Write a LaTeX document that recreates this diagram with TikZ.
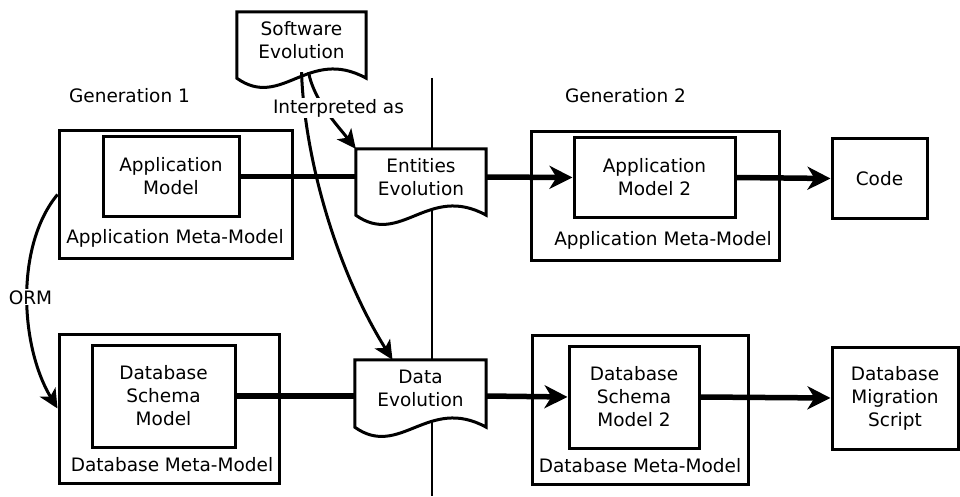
\documentclass[tikz,border=0pt]{standalone}
\usepackage{fontspec}
\setmainfont{DejaVu Sans}
\usetikzlibrary{arrows.meta, calc, backgrounds}

% outline of a document symbol (wavy bottom) round a node
\newcommand{\docshape}[1]{%
  \draw[docline] (#1.north west) -- ([yshift=-10pt]#1.south west)
    .. controls +(45pt,-32pt) and +(-58pt,32pt) .. ([yshift=-10pt]#1.south east)
    -- (#1.north east) -- cycle;}

\tikzset{
  box/.style={draw, line width=3pt, align=center, inner sep=0pt},
  metabox/.style={draw, line width=3pt, inner sep=0pt},
  docnode/.style={align=center, inner sep=0pt, minimum width=130pt, minimum height=56pt},
  docline/.style={line width=3pt, fill=white, line join=miter},
  tag/.style={fill=white, inner sep=1pt},
  flow/.style={line width=5.5pt},
  flowarrow/.style={flow, -{Stealth[length=23pt, width=23pt, inset=7pt]}},
  link/.style={line width=3pt, -{Stealth[length=19pt, width=18pt, inset=5pt]}},
}

\begin{document}
\begin{tikzpicture}[x=1pt, y=1pt, every node/.style={font=\fontsize{18.5}{23}\selectfont}]
  \useasboundingbox (0,0) rectangle (960,496);

  % generations
  \node (gen1) at (129.5,400) {Generation 1};
  \node (gen2) at (625.5,400) {Generation 2};

  % software evolution document
  \node[docnode, minimum width=129pt] (swevo) at (301.5,456) {Software\\Evolution};
  \coordinate (swfoot) at ([yshift=-4pt]swevo.south);
  \coordinate (swfoot2) at ([xshift=7pt,yshift=-4pt]swevo.south);

  % generation 1
  \node[metabox, minimum width=233pt, minimum height=127pt] (appmm) at (175.5,301.5) {};
  \node[box, minimum width=136pt, minimum height=79pt] (appmodel) at (171,319.5) {Application\\Model};
  \node (appmmlabel) at (175,258) {Application Meta-Model};

  \node[metabox, minimum width=220pt, minimum height=149pt] (dbmm) at (169,87.5) {};
  \node[box, minimum width=143pt, minimum height=102pt] (dbschema) at (163.5,100) {Database\\Schema\\Model};
  \node (dbmmlabel) at (172,31) {Database Meta-Model};

  % evolutions
  \node[docnode] (entevo) at (421,319) {Entities\\Evolution};
  \node[docnode, minimum width=131pt, minimum height=57pt] (dataevo) at (420.5,107.5) {Data\\Evolution};

  % generation 2
  \node[metabox, minimum width=248pt, minimum height=128pt] (appmm2) at (655,300) {};
  \node[box, minimum width=161pt, minimum height=79pt] (appmodel2) at (654.5,318.5) {Application\\Model 2};
  \node (appmm2label) at (663,256) {Application Meta-Model};

  \node[metabox, minimum width=216pt, minimum height=149pt] (dbmm2) at (640,86.5) {};
  \node[box, minimum width=130pt, minimum height=102pt] (dbschema2) at (634,99) {Database\\Schema\\Model 2};
  \node (dbmm2label) at (640,30) {Database Meta-Model};

  % outputs
  \node[box, minimum width=95pt, minimum height=79pt] (code) at (879.5,317.5) {Code};
  \node[box, minimum width=126pt, minimum height=102pt] (migration) at (895,98) {Database\\Migration\\Script};

  % divider and document outlines
  \coordinate (divtop) at (432,418);
  \coordinate (divbot) at (432,0);
  \begin{pgfonlayer}{background}
    \draw[line width=2.8pt] (divtop) -- (divbot);
    \docshape{swevo}
    \docshape{entevo}
    \docshape{dataevo}
  \end{pgfonlayer}

  % flows
  \draw[flow] (appmodel.east) -- (appmodel.east -| entevo.west);
  \draw[flowarrow] (entevo.east) -- (appmodel2.west);
  \draw[flowarrow] (appmodel2.east) -- (code.west);
  \draw[flow] (dbschema.east) -- (dbschema.east -| dataevo.west);
  \draw[flowarrow] (dbschema.east -| dataevo.east) -- (dbschema2.west);
  \draw[flowarrow] (dbschema2.east) -- (migration.west);

  % ORM mapping
  \draw[link] (appmm.west) .. controls (15,250) and (20,150) .. (dbmm.west)
    node[tag, pos=0.5, xshift=3pt] (orm) {ORM};

  % interpretation
  \draw[link] (swfoot) .. controls (305,330) and (340,220) .. ([xshift=-28pt]dataevo.north);
  \draw[link] (swfoot2) .. controls (314,395) and (338,370) .. (entevo.north west);
  \node[tag] (interp) at (338.5,388) {Interpreted as};
\end{tikzpicture}
\end{document}
